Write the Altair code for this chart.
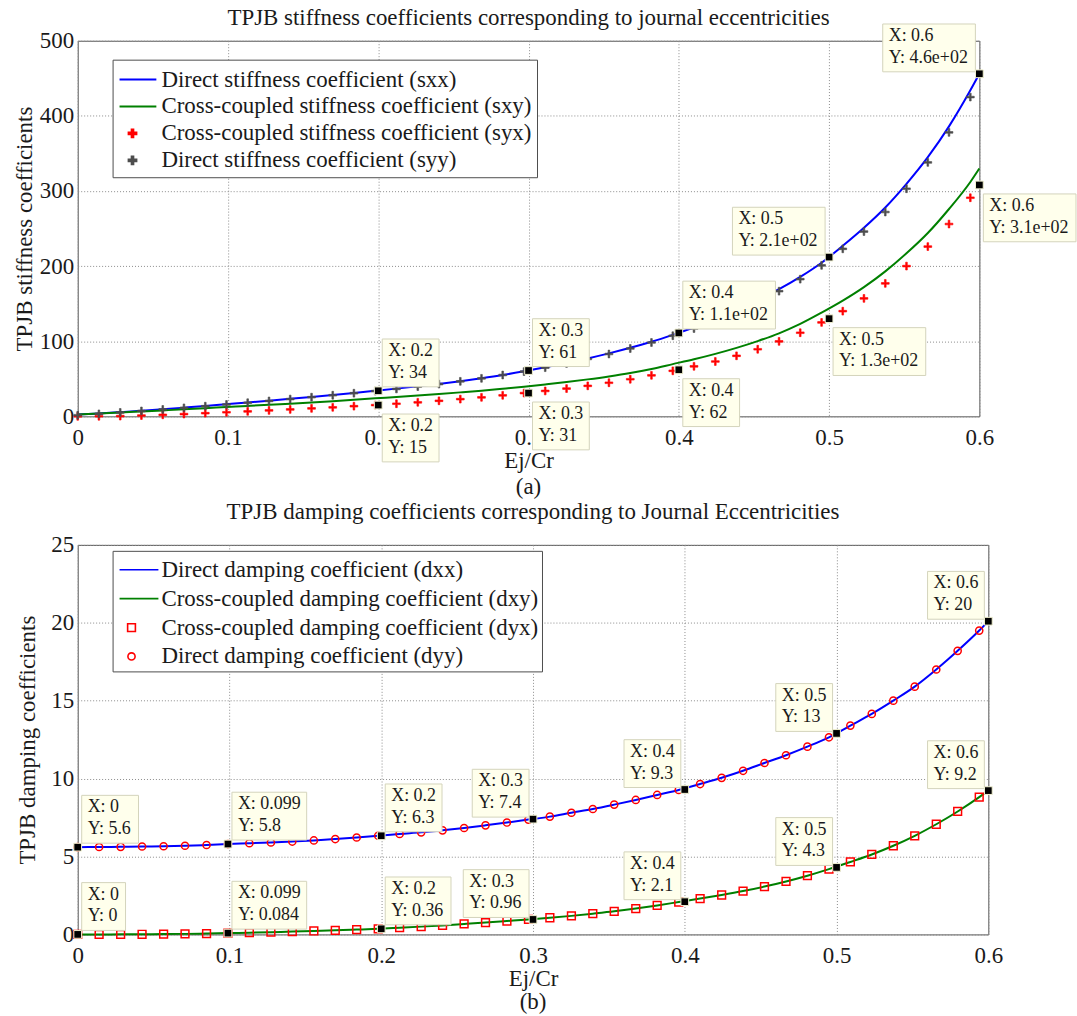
import pandas as pd
import altair as alt

FONT = "Liberation Serif"
TXT = "#1a1a1a"

# ---------------- data ----------------
x_markers = [0.0, 0.0141, 0.0283, 0.0424, 0.0566, 0.0707, 0.0849, 0.099, 0.1131, 0.1273,
             0.1414, 0.1556, 0.1697, 0.1838, 0.198, 0.2121, 0.2263, 0.2404, 0.2546, 0.2687,
             0.2828, 0.297, 0.3111, 0.3253, 0.3394, 0.3535, 0.3677, 0.3818, 0.396, 0.4101,
             0.4243, 0.4384, 0.4525, 0.4667, 0.4808, 0.495, 0.5091, 0.5232, 0.5374, 0.5515,
             0.5657, 0.5798, 0.594]
x_lines = x_markers + [0.6]

x_ticks = [0, 0.1, 0.2, 0.3, 0.4, 0.5, 0.6]
y_ticks_stiff = [0, 100, 200, 300, 400, 500]
y_ticks_damp = [0, 5, 10, 15, 20, 25]

stiff_names = ["Direct stiffness coefficient (sxx)",
               "Cross-coupled stiffness coefficient (sxy)",
               "Cross-coupled stiffness coefficient (syx)",
               "Direct stiffness coefficient (syy)"]
damp_names = ["Direct damping coefficient (dxx)",
              "Cross-coupled damping coefficient (dxy)",
              "Cross-coupled damping coefficient (dyx)",
              "Direct damping coefficient (dyy)"]

sxx = [2.5, 3.8, 5.6, 7.5, 9.5, 11.6, 13.8, 16.1, 18.4, 20.8, 23.3, 25.8, 28.4, 31.1, 34.0,
       36.9, 40.0, 43.3, 46.8, 50.7, 55.0, 60.0,
       65.3, 71.0, 77.1, 83.8, 91.2, 99.3, 108.5,
       118.3, 129.2, 141.2, 154.5, 169.2, 185.6, 204.5,
       227, 251, 278, 309.5, 345, 386, 434, 456]
sxy = [2.5, 3.8, 5.1, 6.5, 7.9, 9.3, 10.8, 12.4, 13.9, 15.4, 16.9, 18.5, 20.2, 22.0, 24.0,
       25.8, 27.7, 29.7, 31.9, 34.2, 36.8, 39.5,
       42.5, 45.7, 49.2, 53.1, 57.6, 63.0, 69.5,
       76.0, 83.2, 91.2, 100.2, 110.5, 123.0, 138.0,
       154, 172, 193, 217, 244, 276, 312, 330]
syx = [0, 0.1, 0.3, 1.1, 2.0, 3.0, 4.2, 5.4, 6.6, 7.9, 9.2, 10.6, 12.0, 13.5, 15.0,
       16.8, 18.7, 20.7, 22.9, 25.3, 28.0, 31.0,
       33.8, 37.0, 40.6, 44.7, 49.4, 54.6, 60.6,
       66.6, 73.0, 80.6, 89.3, 99.8, 111.3, 125.0,
       140, 157, 177, 200, 226, 256, 291]
syy = [1.5, 3.3, 5.2, 7.2, 9.2, 11.3, 13.5, 15.8, 18.1, 20.5, 23.0, 25.5, 28.1, 30.8, 33.6,
       36.5, 39.6, 42.9, 46.6, 50.6, 55.0, 59.6,
       64.8, 70.4, 76.4, 83.0, 90.3, 98.3, 107.3,
       116.9, 127.6, 139.3, 152.3, 166.6, 182.6, 201,
       223, 246, 272, 303, 338, 378, 425]

dxx = [5.6, 5.61, 5.62, 5.64, 5.66, 5.69, 5.74, 5.8,
       5.85, 5.9, 5.96, 6.03, 6.12, 6.22, 6.33,
       6.45, 6.55, 6.68, 6.83, 7.0, 7.18, 7.37,
       7.56, 7.81, 8.05, 8.33, 8.63, 8.95, 9.27,
       9.65, 10.05, 10.5, 11.0, 11.5, 12.05, 12.65,
       13.4, 14.15, 15.0, 15.9, 17.0, 18.2, 19.5, 20.1]
dyy = [5.6, 5.61, 5.62, 5.64, 5.66, 5.69, 5.74, 5.8,
       5.85, 5.9, 5.96, 6.03, 6.12, 6.22, 6.33,
       6.45, 6.55, 6.68, 6.83, 7.0, 7.18, 7.37,
       7.56, 7.81, 8.05, 8.33, 8.63, 8.95, 9.27,
       9.65, 10.05, 10.5, 11.0, 11.5, 12.05, 12.65,
       13.4, 14.15, 15.0, 15.9, 17.0, 18.2, 19.5]
dxy = [0, 0.0, 0.005, 0.01, 0.02, 0.035, 0.055, 0.084,
       0.11, 0.14, 0.18, 0.22, 0.26, 0.31, 0.36,
       0.43, 0.5, 0.58, 0.67, 0.76, 0.86, 0.96,
       1.07, 1.19, 1.33, 1.48, 1.66, 1.86, 2.08,
       2.3, 2.53, 2.78, 3.07, 3.4, 3.77, 4.19,
       4.65, 5.13, 5.69, 6.33, 7.07, 7.89, 8.81, 9.23]
dyx = [0, 0.0, 0.005, 0.01, 0.02, 0.035, 0.055, 0.084,
       0.11, 0.14, 0.18, 0.22, 0.26, 0.31, 0.36,
       0.43, 0.5, 0.58, 0.67, 0.76, 0.86, 0.96,
       1.07, 1.19, 1.33, 1.48, 1.66, 1.86, 2.08,
       2.3, 2.53, 2.78, 3.07, 3.4, 3.77, 4.19,
       4.65, 5.13, 5.69, 6.33, 7.07, 7.89, 8.81]

# data tips
stiff_tip_x = [0.2, 0.2, 0.3, 0.3, 0.4, 0.4, 0.5, 0.5, 0.6, 0.6]
stiff_tip_y = [34, 15, 61, 31, 111, 62, 212, 130, 456, 308]
stiff_tip_xlab = ["X: 0.2", "X: 0.2", "X: 0.3", "X: 0.3", "X: 0.4", "X: 0.4", "X: 0.5", "X: 0.5", "X: 0.6", "X: 0.6"]
stiff_tip_ylab = ["Y: 34", "Y: 15", "Y: 61", "Y: 31", "Y: 1.1e+02", "Y: 62", "Y: 2.1e+02", "Y: 1.3e+02", "Y: 4.6e+02", "Y: 3.1e+02"]
stiff_tip_dir = ["ne", "se", "ne", "se", "ne", "se", "nw", "se", "nw", "se"]

damp_tip_x = [0, 0.099, 0.2, 0.3, 0.4, 0.5, 0.6, 0, 0.099, 0.2, 0.3, 0.4, 0.5, 0.6]
damp_tip_y = [5.6, 5.8, 6.33, 7.4, 9.3, 12.9, 20.1, 0, 0.084, 0.36, 0.96, 2.1, 4.3, 9.23]
damp_tip_xlab = ["X: 0", "X: 0.099", "X: 0.2", "X: 0.3", "X: 0.4", "X: 0.5", "X: 0.6",
                 "X: 0", "X: 0.099", "X: 0.2", "X: 0.3", "X: 0.4", "X: 0.5", "X: 0.6"]
damp_tip_ylab = ["Y: 5.6", "Y: 5.8", "Y: 6.3", "Y: 7.4", "Y: 9.3", "Y: 13", "Y: 20",
                 "Y: 0", "Y: 0.084", "Y: 0.36", "Y: 0.96", "Y: 2.1", "Y: 4.3", "Y: 9.2"]
damp_tip_dir = ["ne", "ne", "ne", "nw", "nw", "nw", "nw", "ne", "ne", "ne", "nw", "nw", "nw", "nw"]

titles = ["TPJB  stiffness coefficients corresponding to journal eccentricities",
          "TPJB damping coefficients corresponding to Journal Eccentricities"]
y_titles = ["TPJB stiffness coefficients", "TPJB damping coefficients"]
captions = ["(a)", "(b)"]

# ---------------- styling ----------------
PLUS_PATH = "M-0.28,-0.06H-0.06V-0.28H0.06V-0.06H0.28V0.06H0.06V0.28H-0.06V0.06H-0.28Z"
SQUARE_PATH = "M-0.26,-0.26H0.26V0.26H-0.26Z"
CIRCLE_PATH = "M-0.24,0A0.24,0.24,0,1,1,0.24,0A0.24,0.24,0,1,1,-0.24,0Z"

CHAR_W = {"X": 0.722, "Y": 0.722, ":": 0.278, " ": 0.25, ".": 0.25, "e": 0.444, "+": 0.564}


def text_w(s):
    return sum(CHAR_W.get(c, 0.5) for c in s)


def long_df(xs, pairs):
    rows = []
    for name, vals in pairs:
        for x, v in zip(xs, vals):
            rows.append({"x": x, "v": v, "series": name})
    return pd.DataFrame(rows)


def tip_layers(xs, ys, xlabs, ylabs, dirs, xenc, yenc):
    layers = []
    h = 48
    for x, y, xl, yl, d in zip(xs, ys, xlabs, ylabs, dirs):
        w = round(max(text_w(xl), text_w(yl)) * 18 + 12)
        if d == "ne":
            x0, y0 = 4, -4 - h
        elif d == "nw":
            x0, y0 = -4 - w, -2 - h
        else:
            x0, y0 = 4, 9
        df = pd.DataFrame({"x": [x], "v": [y], "label": [xl + "\n" + yl]})
        base = alt.Chart(df)
        layers.append(base.mark_rect(fill="#ffffec", stroke="#d4d4bc", strokeWidth=1,
                                     xOffset=x0, x2Offset=x0 + w, yOffset=y0, y2Offset=y0 + h)
                      .encode(x=xenc, x2=alt.X2("x"), y=yenc, y2=alt.Y2("v")))
        layers.append(base.mark_text(align="left", baseline="top", font=FONT, fontSize=18,
                                     lineBreak="\n", lineHeight=22, dx=x0 + 6, dy=y0 + 3, color=TXT)
                      .encode(x=xenc, y=yenc, text="label:N"))
    sq = pd.DataFrame({"x": xs, "v": ys})
    layers.append(alt.Chart(sq).mark_point(shape="square", filled=True, fill="black",
                                           stroke="#f0f0d0", strokeWidth=1, size=60, opacity=1)
                  .encode(x=xenc, y=yenc))
    return layers


def panel(W, H, names, colors, shapes, filled, sym_size, lines, markers, ydomain, yticks, ytitle,
          title, title_offset, caption, cap_dy, legend_xy, leg_pad, label_offset, row_pad,
          tips, lab_pad_x, ytitle_pad):
    legend_kw = dict(title=None, orient="none", legendX=legend_xy[0], legendY=legend_xy[1],
                     fillColor="white", strokeColor="#4d4d4d", padding=leg_pad,
                     labelFont=FONT, labelFontSize=23, labelColor=TXT, labelLimit=700,
                     labelOffset=label_offset, rowPadding=row_pad, symbolSize=sym_size,
                     symbolStrokeWidth=2 if filled else 1.6, symbolOpacity=1)
    if not filled:
        legend_kw["symbolFillColor"] = "transparent"
    leg = alt.Legend(**legend_kw)
    xenc = alt.X("x:Q", scale=alt.Scale(domain=[0, 0.6], nice=False, zero=False),
                 axis=alt.Axis(values=x_ticks, format="~g", title="Ej/Cr", labelPadding=lab_pad_x,
                               titlePadding=0))
    yenc = alt.Y("v:Q", scale=alt.Scale(domain=ydomain, nice=False, zero=False),
                 axis=alt.Axis(values=yticks, format="d", title=ytitle, labelPadding=4,
                               titlePadding=ytitle_pad))
    stroke_enc = alt.Stroke("series:N", scale=alt.Scale(domain=names, range=colors), legend=leg)
    shape_enc = alt.Shape("series:N", scale=alt.Scale(domain=names, range=shapes), legend=leg)
    layers = []
    ldf = long_df(x_lines, lines)
    layers.append(alt.Chart(ldf).mark_line(strokeWidth=2, interpolate="monotone")
                  .encode(x=xenc, y=yenc, stroke=stroke_enc))
    mdf = long_df(x_markers, markers)
    if filled:
        pts = alt.Chart(mdf).mark_point(filled=True, size=sym_size, strokeWidth=0.6, opacity=1).encode(
            x=xenc, y=yenc, stroke=stroke_enc, shape=shape_enc,
            fill=alt.Fill("series:N", scale=alt.Scale(domain=names, range=colors), legend=leg))
    else:
        pts = alt.Chart(mdf).mark_point(filled=False, size=sym_size, strokeWidth=1.5, opacity=1).encode(
            x=xenc, y=yenc, stroke=stroke_enc, shape=shape_enc)
    layers.append(pts)
    layers += tip_layers(*tips, xenc, yenc)
    cap = pd.DataFrame({"t": [caption]})
    layers.append(alt.Chart(cap).mark_text(font=FONT, fontSize=23, color=TXT, baseline="middle")
                  .encode(x=alt.value(W / 2), y=alt.value(H + cap_dy), text="t:N"))
    return alt.layer(*layers).properties(
        width=W, height=H,
        title=alt.TitleParams(title, font=FONT, fontSize=23, fontWeight="normal", color=TXT,
                              offset=title_offset, anchor="middle", frame="group"))


top = panel(905, 377, stiff_names, ["#0000ff", "#008000", "#ff0000", "#4d4d4d"],
            ["M-0.93,0H1.71", "M-0.93,0H1.71", PLUS_PATH, PLUS_PATH], True, 784,
            [(stiff_names[0], sxx), (stiff_names[1], sxy)],
            [(stiff_names[2], syx), (stiff_names[3], syy)],
            [0, 500], y_ticks_stiff, y_titles[0], titles[0], -7, captions[0], 71,
            (35, 19), 5, 14, 0,
            (stiff_tip_x, stiff_tip_y, stiff_tip_xlab, stiff_tip_ylab, stiff_tip_dir), 10, 3)

bottom = panel(914, 391, damp_names, ["#0000ff", "#008000", "#ff0000", "#ff0000"],
               ["M-0.8,0H1.8", "M-0.8,0H1.8", SQUARE_PATH, CIRCLE_PATH], False, 900,
               [(damp_names[0], dxx), (damp_names[1], dxy)],
               [(damp_names[2], dyx), (damp_names[3], dyy)],
               [0, 25], y_ticks_damp, y_titles[1], titles[1], 10, captions[1], 68,
               (35, 6), 3, 14, 1,
               (damp_tip_x, damp_tip_y, damp_tip_xlab, damp_tip_ylab, damp_tip_dir), 10, 11)

chart = alt.vconcat(top, bottom, spacing=0).resolve_scale(
    stroke="independent", fill="independent", shape="independent",
    x="independent", y="independent"
).properties(
    padding={"left": 13, "top": 5, "right": 0, "bottom": 0},
    background="white",
).configure_view(
    stroke="#555555", strokeWidth=1
).configure_axis(
    labelFont=FONT, labelFontSize=23, labelColor=TXT, titleFont=FONT, titleFontSize=23,
    titleFontWeight="normal", titleColor=TXT, grid=True, gridColor="#8c8c8c", gridDash=[1, 2],
    gridWidth=1, domain=False, ticks=False, labelFlush=False, labelOverlap=False
)

chart.save("out.html", embed_options={"renderer": "svg", "actions": False})
